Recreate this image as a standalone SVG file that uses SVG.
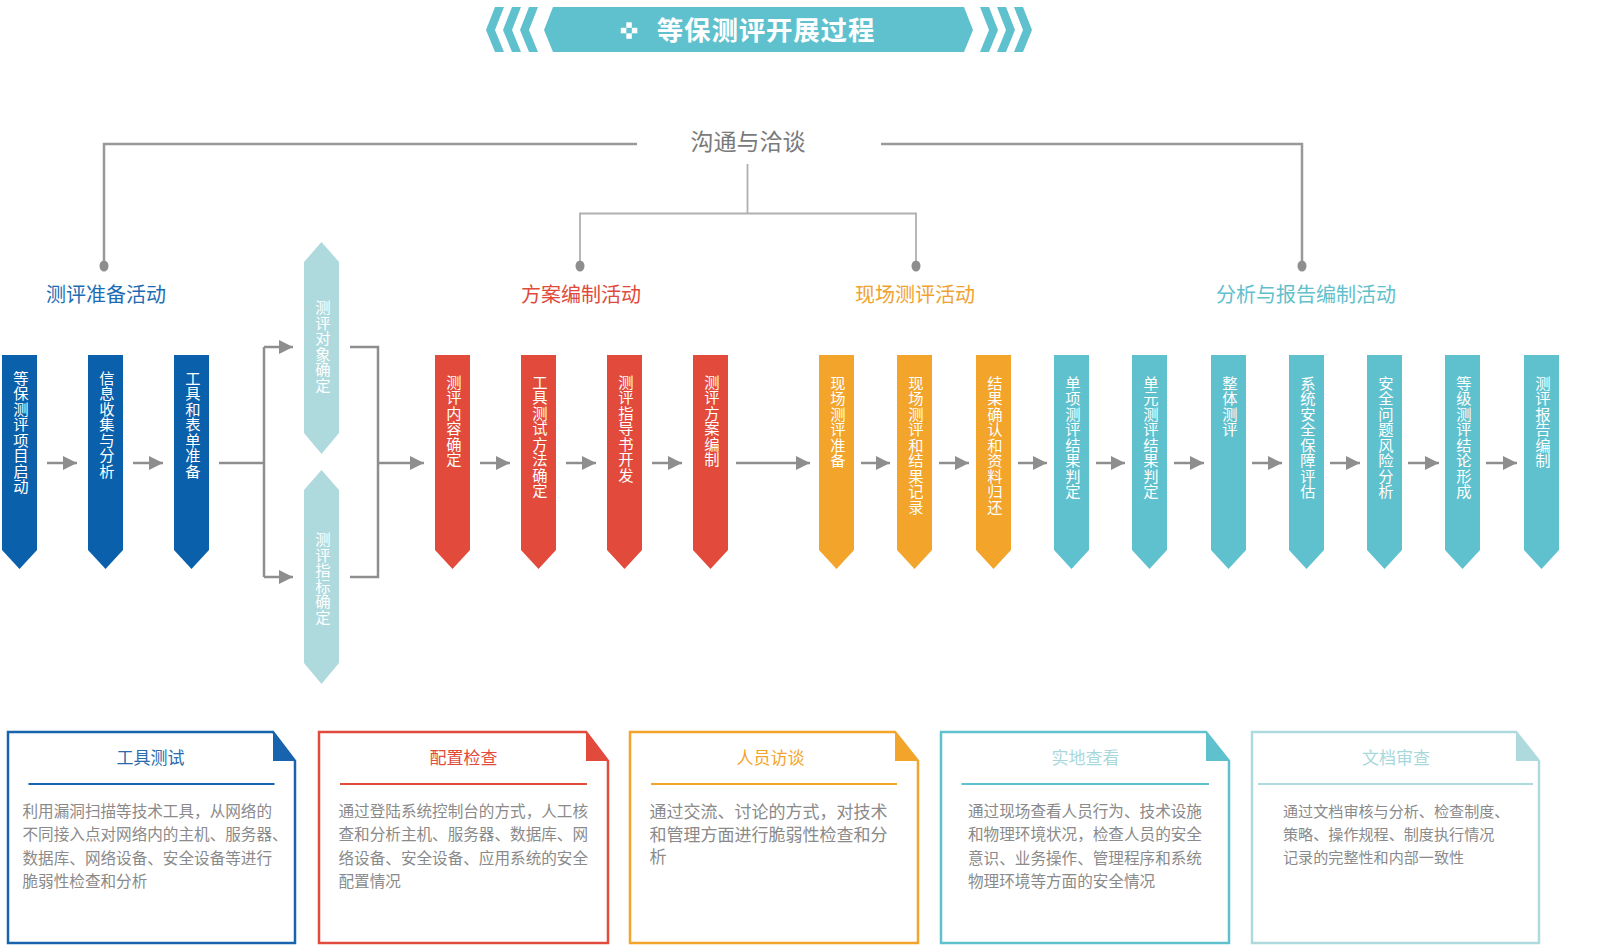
<svg xmlns="http://www.w3.org/2000/svg" xmlns:xlink="http://www.w3.org/1999/xlink" width="1610" height="945" viewBox="0 0 1610 945">
<style>
text{font-family:"Liberation Sans","Noto Sans CJK SC",sans-serif}
.blue{fill:#0b60ab}.red{fill:#e24b3c}.org{fill:#f2a42b}.teal{fill:#60c1ce}.lt{fill:#aedadd}
.ntx{fill:#fff;font-size:15.3px;writing-mode:vertical-rl;letter-spacing:0.2px}
.conn{stroke:#8e8e8e;stroke-width:2.5;fill:none}
.arr{stroke:#8e8e8e;stroke-width:2.5;fill:none;marker-end:url(#ah)}
.sec{font-size:20px;text-anchor:middle}
.body{font-size:15.6px;fill:#8a8a8a}
.body17{font-size:17px;fill:#8a8a8a}
.body15{font-size:15.1px;fill:#8a8a8a}
.ctitle{font-size:17px;text-anchor:middle}
</style>
<defs>
<marker id="ah" markerUnits="userSpaceOnUse" markerWidth="15" markerHeight="14" refX="14" refY="7" orient="auto"><path d="M0,0 L14,7 L0,14 Z" fill="#8e8e8e"/></marker>
<path id="pent" d="M-17.5,0 H17.5 V195 L0,214 L-17.5,195 Z"/>
<path id="chev" d="M0,23 L9,0 H18 L9,23 L18,45 H9 Z"/>
</defs>
<rect width="1610" height="945" fill="#fff"/>

<g id="title">
<use xlink:href="#chev" x="486" y="7" fill="#60c1ce"/>
<use xlink:href="#chev" x="503" y="7" fill="#60c1ce"/>
<use xlink:href="#chev" x="520" y="7" fill="#60c1ce"/>
<g transform="translate(1518,0) scale(-1,1)">
<use xlink:href="#chev" x="486" y="7" fill="#60c1ce"/>
<use xlink:href="#chev" x="503" y="7" fill="#60c1ce"/>
<use xlink:href="#chev" x="520" y="7" fill="#60c1ce"/>
</g>
<path d="M544,30 L553,7 H964 L973,30 L964,52 H553 Z" fill="#60c1ce"/>
<g fill="#fff">
<rect x="626.3" y="22.3" width="5.5" height="5.5"/>
<rect x="626.3" y="33.3" width="5.5" height="5.5"/>
<rect x="620.8" y="27.8" width="5.5" height="5.5"/>
<rect x="631.8" y="27.8" width="5.5" height="5.5"/>
</g>
<text x="766" y="40" font-size="26.5" font-weight="bold" letter-spacing="0.8" fill="#fff" text-anchor="middle">等保测评开展过程</text>
</g>

<g id="top-tree">
<text x="748" y="150" font-size="23" fill="#7a7a7a" text-anchor="middle">沟通与洽谈</text>
<path d="M637,144 H104 V266 M881,144 H1302 V266" stroke="#999" stroke-width="2.5" fill="none"/>
<path d="M747.5,164 V213.5 M580,266 V213.5 H916 V266" stroke="#b0b0b0" stroke-width="1.8" fill="none"/>
<g fill="#8e8e8e">
<ellipse cx="104" cy="266" rx="4.5" ry="5.5"/>
<ellipse cx="580" cy="266" rx="4.5" ry="5.5"/>
<ellipse cx="916" cy="266" rx="4.5" ry="5.5"/>
<ellipse cx="1302" cy="266" rx="4.5" ry="5.5"/>
</g>
<text class="sec" x="106" y="302" fill="#1d6cb3">测评准备活动</text>
<text class="sec" x="581" y="302" fill="#e04a3c">方案编制活动</text>
<text class="sec" x="915" y="302" fill="#f0a22e">现场测评活动</text>
<text class="sec" x="1306" y="302" fill="#62c0cc">分析与报告编制活动</text>
</g>

<g id="connectors">
<path class="arr" d="M47,463 H77"/>
<path class="arr" d="M133,463 H163"/>
<path class="conn" d="M219,463 H264 M264,347 V577"/>
<path class="arr" d="M264,347 H293"/>
<path class="arr" d="M264,577 H293"/>
<path class="conn" d="M350,347 H378 V577 H350"/>
<path class="arr" d="M378,463 H424"/>
<path class="arr" d="M480,463 H510"/>
<path class="arr" d="M566,463 H596"/>
<path class="arr" d="M652,463 H682"/>
<path class="arr" d="M736,463 H810"/>
<path class="arr" d="M861,463 H890"/>
<path class="arr" d="M939,463 H969"/>
<path class="arr" d="M1018,463 H1047"/>
<path class="arr" d="M1096,463 H1125"/>
<path class="arr" d="M1174,463 H1204"/>
<path class="arr" d="M1252,463 H1282"/>
<path class="arr" d="M1330,463 H1360"/>
<path class="arr" d="M1408,463 H1439"/>
<path class="arr" d="M1486,463 H1517"/>
</g>

<g id="n1"><use xlink:href="#pent" x="19.5" y="355" class="blue"/><text class="ntx" x="19.5" y="370.5">等保测评项目启动</text></g>
<g id="n2"><use xlink:href="#pent" x="105.5" y="355" class="blue"/><text class="ntx" x="105.5" y="370.5">信息收集与分析</text></g>
<g id="n3"><use xlink:href="#pent" x="191.5" y="355" class="blue"/><text class="ntx" x="191.5" y="370.5">工具和表单准备</text></g>

<g id="n4"><path class="lt" d="M304,262 L321.5,242 L339,262 V433 L321.5,454 L304,433 Z"/><text class="ntx" x="321.5" y="300">测评对象确定</text></g>
<g id="n5"><path class="lt" d="M304,490 L321.5,470 L339,490 V663 L321.5,684 L304,663 Z"/><text class="ntx" x="321.5" y="532">测评指标确定</text></g>

<g id="n6"><use xlink:href="#pent" x="452.5" y="355" class="red"/><text class="ntx" x="452.5" y="374.5">测评内容确定</text></g>
<g id="n7"><use xlink:href="#pent" x="538.5" y="355" class="red"/><text class="ntx" x="538.5" y="374.5">工具测试方法确定</text></g>
<g id="n8"><use xlink:href="#pent" x="624.5" y="355" class="red"/><text class="ntx" x="624.5" y="374.5">测评指导书开发</text></g>
<g id="n9"><use xlink:href="#pent" x="710.5" y="355" class="red"/><text class="ntx" x="710.5" y="374.5">测评方案编制</text></g>

<g id="n10"><use xlink:href="#pent" x="836.5" y="355" class="org"/><text class="ntx" x="836.5" y="375.5">现场测评准备</text></g>
<g id="n11"><use xlink:href="#pent" x="914.5" y="355" class="org"/><text class="ntx" x="914.5" y="375.5">现场测评和结果记录</text></g>
<g id="n12"><use xlink:href="#pent" x="993.5" y="355" class="org"/><text class="ntx" x="993.5" y="375.5">结果确认和资料归还</text></g>

<g id="n13"><use xlink:href="#pent" x="1071.5" y="355" class="teal"/><text class="ntx" x="1071.5" y="375.5">单项测评结果判定</text></g>
<g id="n14"><use xlink:href="#pent" x="1149.5" y="355" class="teal"/><text class="ntx" x="1149.5" y="375.5">单元测评结果判定</text></g>
<g id="n15"><use xlink:href="#pent" x="1228.5" y="355" class="teal"/><text class="ntx" x="1228.5" y="375.5">整体测评</text></g>
<g id="n16"><use xlink:href="#pent" x="1306.5" y="355" class="teal"/><text class="ntx" x="1306.5" y="375.5">系统安全保障评估</text></g>
<g id="n17"><use xlink:href="#pent" x="1384.5" y="355" class="teal"/><text class="ntx" x="1384.5" y="375.5">安全问题风险分析</text></g>
<g id="n18"><use xlink:href="#pent" x="1462.5" y="355" class="teal"/><text class="ntx" x="1462.5" y="375.5">等级测评结论形成</text></g>
<g id="n19"><use xlink:href="#pent" x="1541.5" y="355" class="teal"/><text class="ntx" x="1541.5" y="375.5">测评报告编制</text></g>

<g id="card1">
<path d="M8,732 H273 L295,761 V943 H8 Z" fill="#fff" stroke="#1763ad" stroke-width="2.5"/>
<path d="M273,732 L295,761 H273 Z" fill="#1763ad"/>
<text class="ctitle" x="150.5" y="764" fill="#2a6aad">工具测试</text>
<line x1="28.5" y1="784" x2="274.5" y2="784" stroke="#1763ad" stroke-width="2"/>
<text class="body" x="22.5" y="816.5">利用漏洞扫描等技术工具，从网络的</text>
<text class="body" x="22.5" y="840">不同接入点对网络内的主机、服务器、</text>
<text class="body" x="22.5" y="863.5">数据库、网络设备、安全设备等进行</text>
<text class="body" x="22.5" y="887">脆弱性检查和分析</text>
</g>
<g id="card2">
<path d="M319,732 H586 L608,761 V943 H319 Z" fill="#fff" stroke="#e24b3c" stroke-width="2.5"/>
<path d="M586,732 L608,761 H586 Z" fill="#e24b3c"/>
<text class="ctitle" x="463.5" y="764" fill="#e24b3c">配置检查</text>
<line x1="340" y1="784" x2="587" y2="784" stroke="#e24b3c" stroke-width="2"/>
<text class="body" x="338.5" y="816.5">通过登陆系统控制台的方式，人工核</text>
<text class="body" x="338.5" y="840">查和分析主机、服务器、数据库、网</text>
<text class="body" x="338.5" y="863.5">络设备、安全设备、应用系统的安全</text>
<text class="body" x="338.5" y="887">配置情况</text>
</g>
<g id="card3">
<path d="M630,732 H895 L918,761 V943 H630 Z" fill="#fff" stroke="#f2a42b" stroke-width="2.5"/>
<path d="M895,732 L918,761 H895 Z" fill="#f2a42b"/>
<text class="ctitle" x="770.5" y="764" fill="#f2a42b">人员访谈</text>
<line x1="651" y1="784" x2="897" y2="784" stroke="#f2a42b" stroke-width="2"/>
<text class="body17" x="649.5" y="817.5">通过交流、讨论的方式，对技术</text>
<text class="body17" x="649.5" y="840.5">和管理方面进行脆弱性检查和分</text>
<text class="body17" x="649.5" y="862.5">析</text>
</g>
<g id="card4">
<path d="M941,732 H1206 L1229,761 V943 H941 Z" fill="#fff" stroke="#60c1ce" stroke-width="2.5"/>
<path d="M1206,732 L1229,761 H1206 Z" fill="#60c1ce"/>
<text class="ctitle" x="1085.5" y="764" fill="#a8d8dc">实地查看</text>
<line x1="961.5" y1="784" x2="1209" y2="784" stroke="#60c1ce" stroke-width="2"/>
<text class="body" x="968" y="816.5">通过现场查看人员行为、技术设施</text>
<text class="body" x="968" y="840">和物理环境状况，检查人员的安全</text>
<text class="body" x="968" y="863.5">意识、业务操作、管理程序和系统</text>
<text class="body" x="968" y="887">物理环境等方面的安全情况</text>
</g>
<g id="card5">
<path d="M1252,732 H1516 L1539,761 V943 H1252 Z" fill="#fff" stroke="#aedadd" stroke-width="2.5"/>
<path d="M1516,732 L1539,761 H1516 Z" fill="#aedadd"/>
<text class="ctitle" x="1396" y="764" fill="#a8d8dc">文档审查</text>
<line x1="1258" y1="784" x2="1533" y2="784" stroke="#aedadd" stroke-width="2"/>
<text class="body15" x="1283" y="816.5">通过文档审核与分析、检查制度、</text>
<text class="body15" x="1283" y="840">策略、操作规程、制度执行情况</text>
<text class="body15" x="1283" y="863">记录的完整性和内部一致性</text>
</g>
</svg>
